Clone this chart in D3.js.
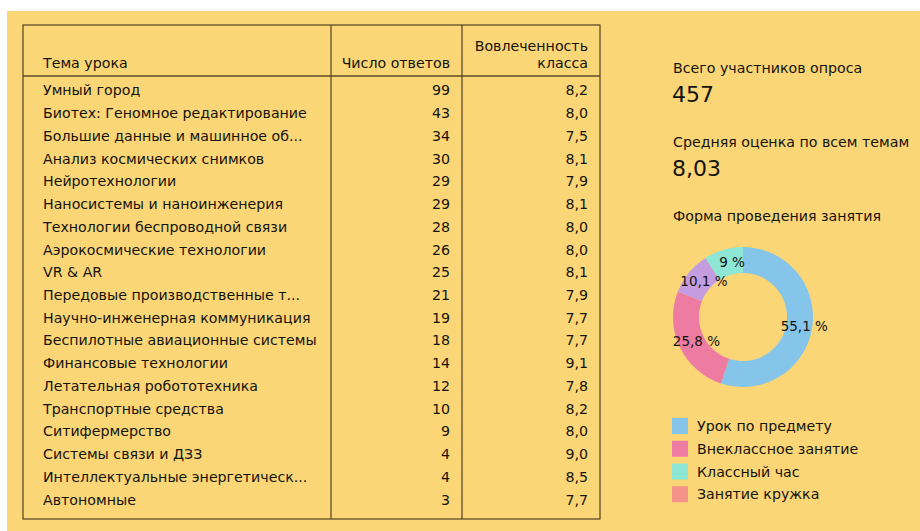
<!DOCTYPE html>
<html>
<head>
<meta charset="utf-8">
<script src="https://cdn.jsdelivr.net/npm/d3@7"></script>
<style>
  body { margin: 0; background: #fff; }
  text { font-family: "DejaVu Sans", sans-serif; fill: #15130e; }
</style>
</head>
<body>
<div id="chart"></div>
<script>
// data
var topics = ["Умный город", "Биотех: Геномное редактирование", "Большие данные и машинное об...",
  "Анализ космических снимков", "Нейротехнологии", "Наносистемы и наноинженерия",
  "Технологии беспроводной связи", "Аэрокосмические технологии", "VR & AR",
  "Передовые производственные т...", "Научно-инженерная коммуникация", "Беспилотные авиационные системы",
  "Финансовые технологии", "Летательная робототехника", "Транспортные средства",
  "Ситифермерство", "Системы связи и ДЗЗ", "Интеллектуальные энергетическ...", "Автономные"];
var answers = [99, 43, 34, 30, 29, 29, 28, 26, 25, 21, 19, 18, 14, 12, 10, 9, 4, 4, 3];
var engagement = ["8,2", "8,0", "7,5", "8,1", "7,9", "8,1", "8,0", "8,0", "8,1", "7,9",
  "7,7", "7,7", "9,1", "7,8", "8,2", "8,0", "9,0", "8,5", "7,7"];
var headers = ["Тема урока", "Число ответов", "Вовлеченность класса"];

var totalLabel = "Всего участников опроса", totalValue = "457";
var avgLabel = "Средняя оценка по всем темам", avgValue = "8,03";
var formTitle = "Форма проведения занятия";

var sliceValues = [55.1, 25.8, 10.1, 9];
var sliceLabels = ["55,1 %", "25,8 %", "10,1 %", "9 %"];
var sliceColors = ["#86c5ea", "#ee7ba1", "#c49ce0", "#8ee6d5"];

var legendLabels = ["Урок по предмету", "Внеклассное занятие", "Классный час", "Занятие кружка"];
var legendColors = ["#86c5ea", "#ee7ba1", "#8ee6d5", "#f5928a"];

var W = 920, H = 531;
var svg = d3.select("#chart").append("svg").attr("width", W).attr("height", H);

svg.append("rect").attr("x", 7).attr("y", 11).attr("width", W - 7).attr("height", H - 11)
  .attr("fill", "#fbd676");

// table
var tbl = {x0: 23, x1: 600, y0: 25, y1: 519, head: 76, c1: 331, c2: 462};
var y = d3.scaleBand().domain(d3.range(topics.length)).range([79, 511]);
var border = "#5d4c2a";

var t = svg.append("g");
t.append("rect").attr("x", tbl.x0).attr("y", tbl.y0)
  .attr("width", tbl.x1 - tbl.x0).attr("height", tbl.y1 - tbl.y0)
  .attr("fill", "none").attr("stroke", border).attr("stroke-width", 1.3);
t.append("line").attr("x1", tbl.x0).attr("x2", tbl.x1).attr("y1", tbl.head).attr("y2", tbl.head)
  .attr("stroke", border).attr("stroke-width", 1.3);
[tbl.c1, tbl.c2].forEach(function(cx) {
  t.append("line").attr("x1", cx).attr("x2", cx).attr("y1", tbl.y0).attr("y2", tbl.y1)
    .attr("stroke", border).attr("stroke-width", 1.3);
});

var fs = 14.2;
t.append("text").attr("x", 43).attr("y", 68).attr("font-size", fs).text(headers[0]);
t.append("text").attr("x", 450).attr("y", 68).attr("font-size", fs)
  .attr("text-anchor", "end").text(headers[1]);
t.append("text").attr("x", 588).attr("y", 51).attr("font-size", fs)
  .attr("text-anchor", "end").text("Вовлеченность");
t.append("text").attr("x", 588).attr("y", 68).attr("font-size", fs)
  .attr("text-anchor", "end").text("класса");

var rows = t.selectAll("g.row").data(topics).enter().append("g").attr("class", "row")
  .attr("transform", (d, i) => `translate(0, ${y(i) + y.bandwidth() / 2 + 5})`);
rows.append("text").attr("x", 43).attr("font-size", fs).text(d => d);
rows.append("text").attr("x", 450).attr("font-size", fs).attr("text-anchor", "end")
  .text((d, i) => answers[i]);
rows.append("text").attr("x", 588).attr("font-size", fs).attr("text-anchor", "end")
  .text((d, i) => engagement[i]);

// right side
var r = svg.append("g");
r.append("text").attr("x", 673).attr("y", 73).attr("font-size", fs).text(totalLabel);
r.append("text").attr("x", 672).attr("y", 102).attr("font-size", 22).text(totalValue);
r.append("text").attr("x", 673).attr("y", 147).attr("font-size", fs).text(avgLabel);
r.append("text").attr("x", 672).attr("y", 176).attr("font-size", 22).text(avgValue);
r.append("text").attr("x", 673).attr("y", 221).attr("font-size", fs).text(formTitle);

// donut
var pie = d3.pie().sort(null)(sliceValues);
var arc = d3.arc().innerRadius(44).outerRadius(70);
var donut = svg.append("g").attr("transform", "translate(743, 317)");
donut.selectAll("path").data(pie).enter().append("path")
  .attr("d", arc).attr("fill", (d, i) => sliceColors[i]);
donut.selectAll("text").data(pie).enter().append("text")
  .attr("transform", d => `translate(${arc.centroid(d)})`)
  .attr("dx", 5).attr("dy", "0.35em").attr("text-anchor", "middle").attr("font-size", 13.5)
  .text((d, i) => sliceLabels[i]);

// legend
var ly = d3.scaleBand().domain(d3.range(legendLabels.length)).range([414, 505]);
var lg = svg.selectAll("g.leg").data(legendLabels).enter().append("g").attr("class", "leg")
  .attr("transform", (d, i) => `translate(672, ${ly(i)})`);
lg.append("rect").attr("y", 4).attr("width", 16).attr("height", 16)
  .attr("fill", (d, i) => legendColors[i]);
lg.append("text").attr("x", 25).attr("y", 17).attr("font-size", fs).text(d => d);
</script>
</body>
</html>
